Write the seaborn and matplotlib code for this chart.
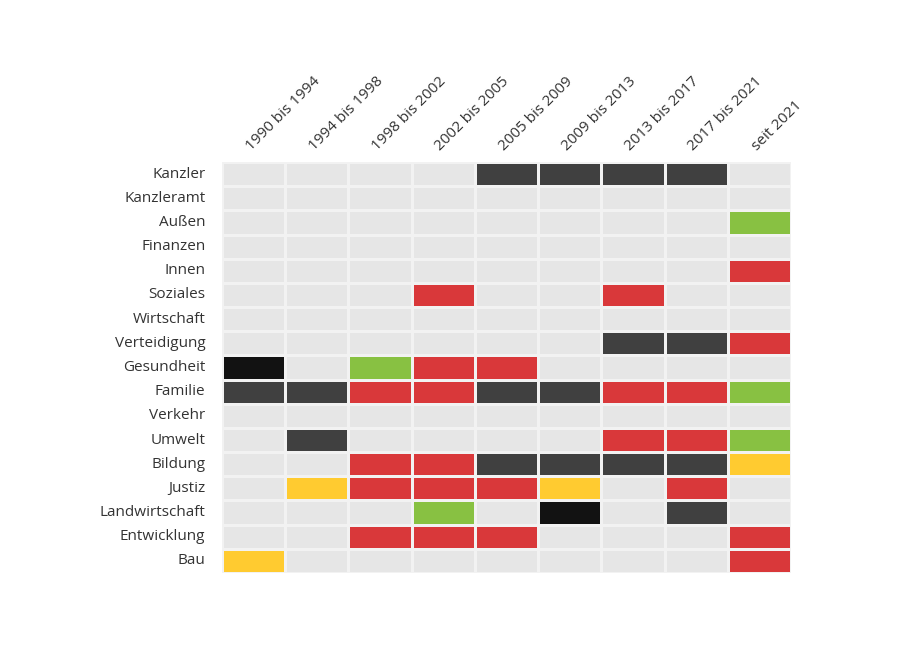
import numpy as np
import pandas as pd
import matplotlib
matplotlib.use("Agg")
import matplotlib.pyplot as plt
from matplotlib.colors import ListedColormap
import seaborn as sns

# 0 = keine, 1 = CDU, 2 = CSU, 3 = SPD, 4 = Grüne, 5 = FDP
periods = ["1990 bis 1994", "1994 bis 1998", "1998 bis 2002", "2002 bis 2005",
           "2005 bis 2009", "2009 bis 2013", "2013 bis 2017", "2017 bis 2021",
           "seit 2021"]
ministries = ["Kanzler", "Kanzleramt", "Außen", "Finanzen", "Innen", "Soziales",
              "Wirtschaft", "Verteidigung", "Gesundheit", "Familie", "Verkehr",
              "Umwelt", "Bildung", "Justiz", "Landwirtschaft", "Entwicklung", "Bau"]

kanzler = [0, 0, 0, 0, 1, 1, 1, 1, 0]
kanzleramt = [0, 0, 0, 0, 0, 0, 0, 0, 0]
aussen = [0, 0, 0, 0, 0, 0, 0, 0, 4]
finanzen = [0, 0, 0, 0, 0, 0, 0, 0, 0]
innen = [0, 0, 0, 0, 0, 0, 0, 0, 3]
soziales = [0, 0, 0, 3, 0, 0, 3, 0, 0]
wirtschaft = [0, 0, 0, 0, 0, 0, 0, 0, 0]
verteidigung = [0, 0, 0, 0, 0, 0, 1, 1, 3]
gesundheit = [2, 0, 4, 3, 3, 0, 0, 0, 0]
familie = [1, 1, 3, 3, 1, 1, 3, 3, 4]
verkehr = [0, 0, 0, 0, 0, 0, 0, 0, 0]
umwelt = [0, 1, 0, 0, 0, 0, 3, 3, 4]
bildung = [0, 0, 3, 3, 1, 1, 1, 1, 5]
justiz = [0, 5, 3, 3, 3, 5, 0, 3, 0]
landwirtschaft = [0, 0, 0, 4, 0, 2, 0, 1, 0]
entwicklung = [0, 0, 3, 3, 3, 0, 0, 0, 3]
bau = [5, 0, 0, 0, 0, 0, 0, 0, 3]

party_colors = ["#e6e6e6", "#404040", "#121212", "#d9383a", "#88c142", "#ffcb30"]

df = pd.DataFrame(
    [kanzler, kanzleramt, aussen, finanzen, innen, soziales, wirtschaft,
     verteidigung, gesundheit, familie, verkehr, umwelt, bildung, justiz,
     landwirtschaft, entwicklung, bau],
    index=ministries, columns=periods)

sns.set_theme(style="white")
plt.rcParams["font.family"] = ["Open Sans", "DejaVu Sans"]

fig = plt.figure(figsize=(9, 6.5), dpi=100)
ax = fig.add_axes([0.2467, 0.1185, 0.6322, 0.6323])

sns.heatmap(df, ax=ax, cmap=ListedColormap(party_colors), vmin=-0.5, vmax=5.5,
            cbar=False, linewidths=0.8, linecolor="#f2f2f2", square=False)

ax.xaxis.tick_top()
ax.set_xticklabels(periods, rotation=45, ha="left", va="bottom",
                   rotation_mode="anchor", fontsize=11, color="#333333")
ax.set_yticklabels(ministries, rotation=0, fontsize=11, color="#333333")
ax.tick_params(axis="y", length=0, pad=12)
ax.tick_params(axis="x", length=0, pad=6)
ax.set_xlabel("")
ax.set_ylabel("")

fig.savefig("out.png", dpi=100)
